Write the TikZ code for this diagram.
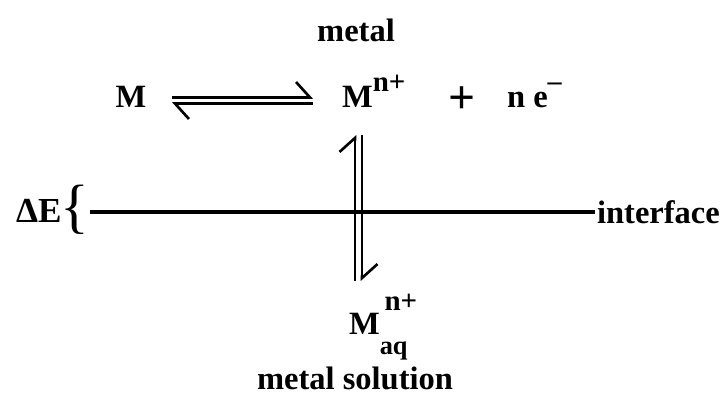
\documentclass[tikz,border=0pt]{standalone}
\usepackage{fontspec}
\setmainfont{Liberation Serif}
\usetikzlibrary{arrows.meta}
\newcommand{\upidx}[1]{\raisebox{0.5em}{\fontsize{16.5}{16.5}\selectfont #1}}
\tikzset{
  every node/.style={font=\bfseries\fontsize{18.5}{22}\selectfont, inner sep=1pt},
  harp/.style={-{Straight Barb[left,length=0.28cm,width=0.62cm]}, line width=1.5pt},
  iline/.style={line width=2.8pt},
}
\begin{document}
\begin{tikzpicture}[x=0.02cm,y=-0.02cm]
\useasboundingbox (0,0) rectangle (727,405);
% labels of the two phases
\node (metal) at (356,30) {metal};
\node (msol) at (355,378) {metal solution};
% reaction
\node[anchor=base] (m) at (131,108) {M};
\node[anchor=base west] (mn) at (340,108) {M\upidx{n+}};
\node[anchor=base, font=\bfseries\fontsize{27}{27}\selectfont] (plus) at (462,114) {+};
\node[anchor=base west] (ne) at (505,108) {n e\raisebox{0.55em}{\fontsize{16}{16}\selectfont –}};
\node[anchor=base west] (maq) at (347,335)
  {M\rlap{\raisebox{0.75em}{\fontsize{16.5}{16.5}\selectfont\,n+}}\raisebox{-0.6em}{\fontsize{15}{15}\selectfont aq}};
% interface
\node[anchor=base west, font=\bfseries\fontsize{20}{22}\selectfont] (de) at (14,223) {ΔE};
\node[font=\fontsize{34}{34}\selectfont, inner sep=0pt] (brace) at (75,210) {\{};
\node[anchor=west] (iface) at (595,212) {interface};
\draw[iline] (brace.east |- iface.west) -- (iface.west);
% equilibrium harpoons
\coordinate (hl) at (172,100.5);
\coordinate (hr) at (313,100.5);
\draw[harp] ([yshift=0.06cm]hl) -- ([yshift=0.06cm]hr);
\draw[harp] ([yshift=-0.06cm]hr) -- ([yshift=-0.06cm]hl);
\coordinate (vt) at (358.5,135);
\coordinate (vb) at (358.5,281);
\draw[harp] ([xshift=-0.07cm]vb) -- ([xshift=-0.07cm]vt);
\draw[harp] ([xshift=0.07cm]vt) -- ([xshift=0.07cm]vb);
\end{tikzpicture}
\end{document}
